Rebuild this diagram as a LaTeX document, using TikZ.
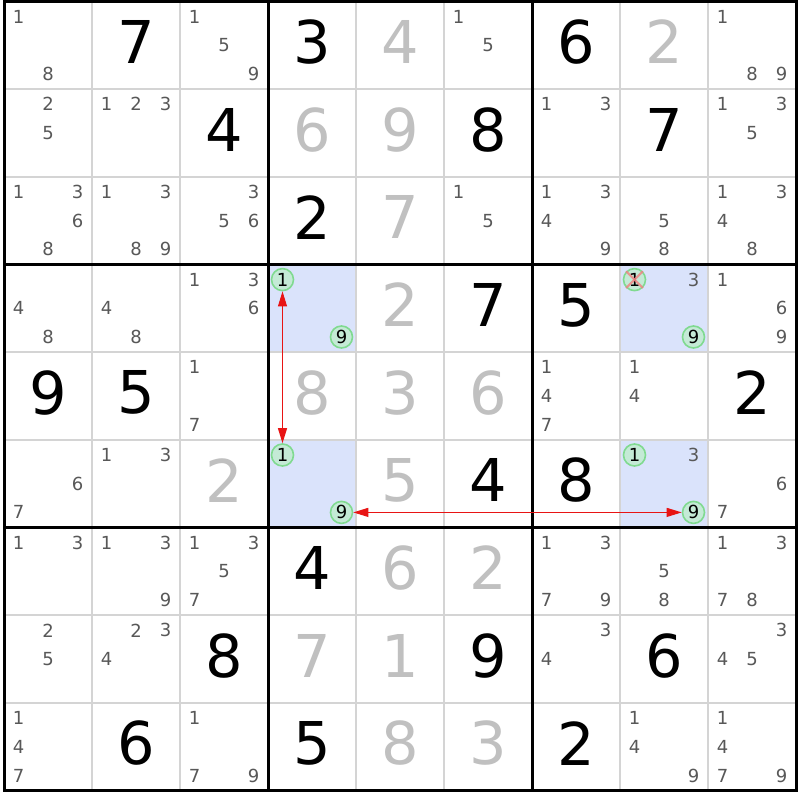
\documentclass[tikz,border=0pt]{standalone}
\usepackage{fontspec}
\setmainfont{DejaVu Sans}
\usetikzlibrary{arrows.meta}
\definecolor{candgray}{RGB}{88,88,88}
\definecolor{solvedgray}{RGB}{192,192,192}
\definecolor{thingrid}{RGB}{212,212,212}
\definecolor{hiblue}{RGB}{218,227,251}
\definecolor{ringgreen}{RGB}{128,218,144}
\definecolor{ringfill}{RGB}{196,234,214}
\definecolor{xred}{RGB}{240,128,128}
\definecolor{arrred}{RGB}{232,20,20}
\tikzset{
  givenstyle/.style={inner sep=0pt,text=black,font=\fontsize{59}{59}\selectfont},
  solvedstyle/.style={inner sep=0pt,text=solvedgray,font=\fontsize{59}{59}\selectfont},
  candstyle/.style={inner sep=0pt,text=candgray,font=\fontsize{18}{18}\selectfont},
  ringstyle/.style={circle,draw=ringgreen,fill=ringfill,line width=1.6pt,minimum size=22pt,inner sep=0pt,text=black,font=\fontsize{18}{18}\selectfont},
  linkarrow/.style={draw=arrred,line width=1pt,{Triangle[length=15pt,width=9pt]}-{Triangle[length=15pt,width=9pt]}},
  thinline/.style={draw=thingrid,line width=2pt},
  thickline/.style={draw=black,line width=3pt},
}
\newcommand\cellctr[2]{%
  \pgfmathsetmacro\px{4+88*(#2-0.5)}%
  \pgfmathsetmacro\py{1.5+87.7*(#1-0.5)-3.5}}
\newcommand\candpos[3]{%
  \pgfmathtruncatemacro\cc{mod(#3-1,3)}%
  \pgfmathtruncatemacro\rr{(#3-1)/3}%
  \pgfmathsetmacro\px{4+88*(#2-1)+14.5+29.5*\cc}%
  \pgfmathsetmacro\py{1.5+87.7*(#1-1)+15+28.7*\rr}}
\newcommand\givenD[3]{\cellctr{#1}{#2}\node[givenstyle] (v#1#2) at (\px,\py) {#3};}
\newcommand\solvedD[3]{\cellctr{#1}{#2}\node[solvedstyle] (v#1#2) at (\px,\py) {#3};}
\newcommand\candD[3]{\foreach \k in {#3}{\candpos{#1}{#2}{\k}\node[candstyle] (k#1#2\k) at (\px,\py) {\k};}}
\newcommand\ringD[3]{\candpos{#1}{#2}{#3}\node[ringstyle] (ring#1#2#3) at (\px,\py) {#3};}
\newcommand\hicell[2]{\fill[hiblue] ({4+88*(#2-1)},{1.5+87.7*(#1-1)}) rectangle ({4+88*#2},{1.5+87.7*#1});}
\begin{document}
\begin{tikzpicture}[x=1pt,y=-1pt]
\useasboundingbox (0,0) rectangle (800,800);
\fill[white] (0,0) rectangle (800,800);
% highlighted cells
\hicell{4}{4}\hicell{6}{4}\hicell{4}{8}\hicell{6}{8}
% grid
\foreach \i in {1,2,4,5,7,8}{
  \draw[thinline] ({4+88*\i},1.5) -- ({4+88*\i},790.8);
  \draw[thinline] (4,{1.5+87.7*\i}) -- (796,{1.5+87.7*\i});
}
\foreach \i in {3,6}{
  \draw[thickline] ({4+88*\i},1.5) -- ({4+88*\i},790.8);
  \draw[thickline] (4,{1.5+87.7*\i}) -- (796,{1.5+87.7*\i});
}
\draw[thickline,line join=miter] (4,1.5) rectangle (796,790.8);
% row 1
\candD{1}{1}{1,8} \givenD{1}{2}{7} \candD{1}{3}{1,5,9} \givenD{1}{4}{3} \solvedD{1}{5}{4} \candD{1}{6}{1,5} \givenD{1}{7}{6} \solvedD{1}{8}{2} \candD{1}{9}{1,8,9}
% row 2
\candD{2}{1}{2,5} \candD{2}{2}{1,2,3} \givenD{2}{3}{4} \solvedD{2}{4}{6} \solvedD{2}{5}{9} \givenD{2}{6}{8} \candD{2}{7}{1,3} \givenD{2}{8}{7} \candD{2}{9}{1,3,5}
% row 3
\candD{3}{1}{1,3,6,8} \candD{3}{2}{1,3,8,9} \candD{3}{3}{3,5,6} \givenD{3}{4}{2} \solvedD{3}{5}{7} \candD{3}{6}{1,5} \candD{3}{7}{1,3,4,9} \candD{3}{8}{5,8} \candD{3}{9}{1,3,4,8}
% row 4
\candD{4}{1}{4,8} \candD{4}{2}{4,8} \candD{4}{3}{1,3,6} \solvedD{4}{5}{2} \givenD{4}{6}{7} \givenD{4}{7}{5} \candD{4}{8}{3} \candD{4}{9}{1,6,9}
% row 5
\givenD{5}{1}{9} \givenD{5}{2}{5} \candD{5}{3}{1,7} \solvedD{5}{4}{8} \solvedD{5}{5}{3} \solvedD{5}{6}{6} \candD{5}{7}{1,4,7} \candD{5}{8}{1,4} \givenD{5}{9}{2}
% row 6
\candD{6}{1}{6,7} \candD{6}{2}{1,3} \solvedD{6}{3}{2} \solvedD{6}{5}{5} \givenD{6}{6}{4} \givenD{6}{7}{8} \candD{6}{8}{3} \candD{6}{9}{6,7}
% row 7
\candD{7}{1}{1,3} \candD{7}{2}{1,3,9} \candD{7}{3}{1,3,5,7} \givenD{7}{4}{4} \solvedD{7}{5}{6} \solvedD{7}{6}{2} \candD{7}{7}{1,3,7,9} \candD{7}{8}{5,8} \candD{7}{9}{1,3,7,8}
% row 8
\candD{8}{1}{2,5} \candD{8}{2}{2,3,4} \givenD{8}{3}{8} \solvedD{8}{4}{7} \solvedD{8}{5}{1} \givenD{8}{6}{9} \candD{8}{7}{3,4} \givenD{8}{8}{6} \candD{8}{9}{3,4,5}
% row 9
\candD{9}{1}{1,4,7} \givenD{9}{2}{6} \candD{9}{3}{1,7,9} \givenD{9}{4}{5} \solvedD{9}{5}{8} \solvedD{9}{6}{3} \givenD{9}{7}{2} \candD{9}{8}{1,4,9} \candD{9}{9}{1,4,7,9}
% circled candidates
\ringD{4}{4}{1}\ringD{4}{4}{9}
\ringD{6}{4}{1}\ringD{6}{4}{9}
\ringD{4}{8}{1}\ringD{4}{8}{9}
\ringD{6}{8}{1}\ringD{6}{8}{9}
% eliminated candidate
\draw[xred,line width=2pt,opacity=0.8] (ring481.north west) -- (ring481.south east);
\draw[xred,line width=2pt,opacity=0.8] (ring481.north east) -- (ring481.south west);
% links
\draw[linkarrow] (ring441) -- (ring641);
\draw[linkarrow] (ring649) -- (ring689);
\end{tikzpicture}
\end{document}
